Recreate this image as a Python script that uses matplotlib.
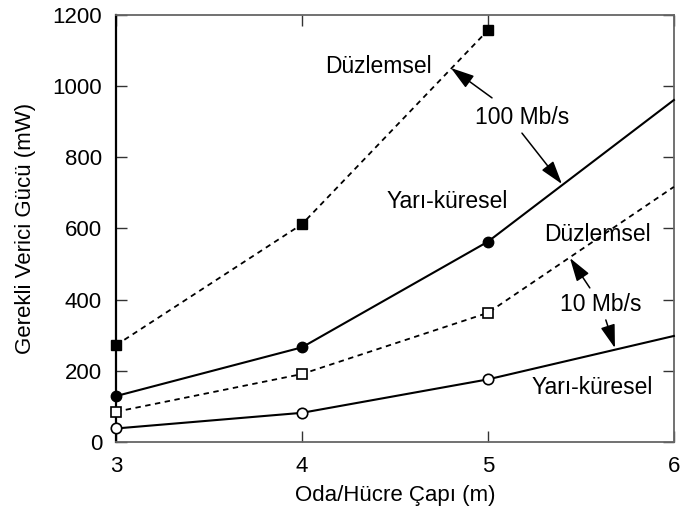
import matplotlib
matplotlib.use("Agg")
import matplotlib.pyplot as plt

plt.rcParams['font.family'] = ['Liberation Sans', 'DejaVu Sans']

# Data
x_pts = [3, 4, 5, 6]
duz_100 = [272, 612, 1157]          # Düzlemsel, 100 Mb/s (x = 3..5)
yari_100 = [129, 266, 563, 961]     # Yarı-küresel, 100 Mb/s
duz_10 = [85, 191, 363, 717]        # Düzlemsel, 10 Mb/s
yari_10 = [38, 82, 176, 298]        # Yarı-küresel, 10 Mb/s

x_ticks = [3, 4, 5, 6]
y_ticks = [0, 200, 400, 600, 800, 1000, 1200]

fig = plt.figure(figsize=(6.8, 5.16), dpi=100)
ax = fig.add_axes([0.1706, 0.1434, 0.8204, 0.8276])

ms = 7.5
ax.plot(x_pts[:3], duz_100, ls=(0, (3, 2.5)), color='black', lw=1.3,
        marker='s', ms=ms, mfc='black', mec='black', clip_on=False, zorder=3)
ax.plot(x_pts, yari_100, ls='-', color='black', lw=1.5,
        marker='o', ms=ms, mfc='black', mec='black', markevery=[0, 1, 2],
        clip_on=False, zorder=3)
ax.plot(x_pts, duz_10, ls=(0, (3, 2.5)), color='black', lw=1.3,
        marker='s', ms=ms, mfc='white', mec='black', mew=1.2, markevery=[0, 1, 2],
        clip_on=False, zorder=3)
ax.plot(x_pts, yari_10, ls='-', color='black', lw=1.5,
        marker='o', ms=ms, mfc='white', mec='black', mew=1.2, markevery=[0, 1, 2],
        clip_on=False, zorder=3)

ax.set_xlim(3, 6)
ax.set_ylim(0, 1200)
ax.set_xticks(x_ticks)
ax.set_yticks(y_ticks)
ax.tick_params(direction='in', length=8, width=1.0, labelsize=16, pad=10,
               top=True, right=True, colors='#333333', labelcolor='black')

for side in ['top', 'right', 'bottom']:
    ax.spines[side].set_color('#666666')
    ax.spines[side].set_linewidth(1.3)
ax.spines['left'].set_color('black')
ax.spines['left'].set_linewidth(1.6)

ax.set_xlabel('Oda/Hücre Çapı (m)', fontsize=16, labelpad=6)
ax.set_ylabel('Gerekli Verici Gücü (mW)', fontsize=16, labelpad=12)

fs = 16.5
ax.text(4.409, 1054, 'Düzlemsel', fontsize=fs, ha='center', va='center')
ax.text(5.183, 911, '100 Mb/s', fontsize=fs, ha='center', va='center')
ax.text(4.780, 675, 'Yarı-küresel', fontsize=fs, ha='center', va='center')
ax.text(5.591, 582, 'Düzlemsel', fontsize=fs, ha='center', va='center')
ax.text(5.608, 385, '10 Mb/s', fontsize=fs, ha='center', va='center')
ax.text(5.559, 152, 'Yarı-küresel', fontsize=fs, ha='center', va='center')

ap = dict(arrowstyle='-|>,head_length=0.9,head_width=0.28', color='black',
          lw=1.1, mutation_scale=16, shrinkA=0, shrinkB=0)
ax.annotate('', xy=(4.801, 1051), xytext=(5.022, 967), arrowprops=ap)
ax.annotate('', xy=(5.398, 725), xytext=(5.183, 868), arrowprops=ap)
ax.annotate('', xy=(5.441, 517), xytext=(5.548, 433), arrowprops=ap)
ax.annotate('', xy=(5.683, 264), xytext=(5.634, 343), arrowprops=ap)

fig.savefig('out.png', dpi=100)
